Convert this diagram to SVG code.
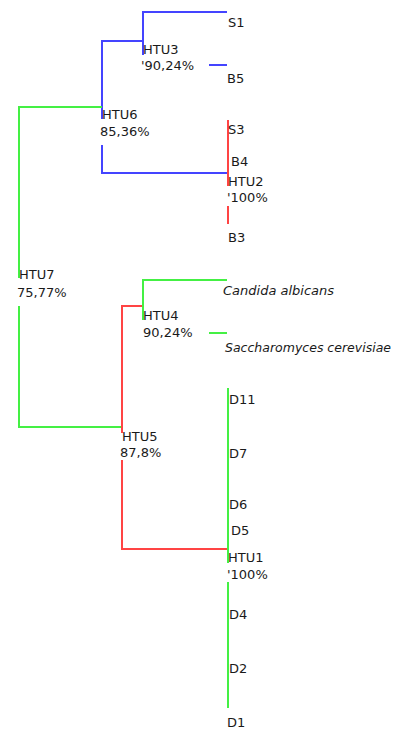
<svg xmlns="http://www.w3.org/2000/svg" width="397" height="729" viewBox="0 0 397 729">
<style>
text{font-family:"DejaVu Sans","Liberation Sans",sans-serif;font-size:13px;fill:#1a1a1a}
.it{font-style:italic}
.b{stroke:#4444ff}
.r{stroke:#ff4444}
.g{stroke:#44f044}
path{fill:none;stroke-width:2}
</style>
<g id="connectors">
<path class="b" d="M227,12 H143 V55"/>
<path class="b" d="M209,65 H227"/>
<path class="b" d="M143,41 H102 V119"/>
<path class="b" d="M102,145 V173 H228"/>
<path class="r" d="M228,120 V186"/>
<path class="r" d="M228,206 V224"/>
<path class="g" d="M102,107 H19 V278"/>
<path class="g" d="M19,306 V427 H122"/>
<path class="r" d="M143,306 H122 V433"/>
<path class="r" d="M122,460 V549 H228"/>
<path class="g" d="M227,280 H143 V320"/>
<path class="g" d="M209,333 H227"/>
<path class="g" d="M228,388 V563"/>
<path class="g" d="M228,582 V708"/>
</g>
<g id="S1"><text x="228" y="27">S1</text></g>
<g id="B5"><text x="227" y="83">B5</text></g>
<g id="HTU3"><text x="143" y="54">HTU3</text><text x="141" y="70">'90,24%</text></g>
<g id="HTU6"><text x="102" y="119">HTU6</text><text x="100" y="136">85,36%</text></g>
<g id="S3"><text x="228" y="134">S3</text></g>
<g id="B4"><text x="231" y="166">B4</text></g>
<g id="HTU2"><text x="228" y="186">HTU2</text><text x="227" y="202">'100%</text></g>
<g id="B3"><text x="228" y="242">B3</text></g>
<g id="HTU7"><text x="19" y="279">HTU7</text><text x="17" y="297">75,77%</text></g>
<g id="Candida"><text class="it" x="223" y="295">Candida albicans</text></g>
<g id="HTU4"><text x="143" y="320">HTU4</text><text x="143" y="337">90,24%</text></g>
<g id="Saccharomyces"><text class="it" x="225" y="352" textLength="166" lengthAdjust="spacingAndGlyphs">Saccharomyces cerevisiae</text></g>
<g id="D11"><text x="229" y="404">D11</text></g>
<g id="HTU5"><text x="122" y="441">HTU5</text><text x="120" y="457">87,8%</text></g>
<g id="D7"><text x="229" y="458">D7</text></g>
<g id="D6"><text x="229" y="509">D6</text></g>
<g id="D5"><text x="231" y="535">D5</text></g>
<g id="HTU1"><text x="228" y="562">HTU1</text><text x="227" y="579">'100%</text></g>
<g id="D4"><text x="229" y="619">D4</text></g>
<g id="D2"><text x="229" y="673">D2</text></g>
<g id="D1"><text x="227" y="727">D1</text></g>
</svg>
